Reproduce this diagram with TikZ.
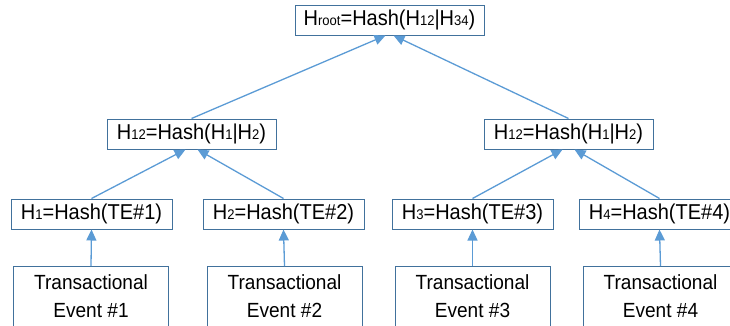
\documentclass[tikz,border=0pt]{standalone}
\usepackage{fontspec}
\setmainfont{Liberation Sans}[FakeStretch=0.93]
\usetikzlibrary{arrows.meta,calc}
\definecolor{boxc}{HTML}{41719C}
\definecolor{linec}{HTML}{5B9BD5}
\newcommand{\sbs}[1]{{\fontsize{14}{14}\selectfont #1}}
\tikzset{
  x=1pt,y=-1pt,
  hbox/.style={draw=boxc,line width=1pt,inner sep=0pt,minimum height=30pt,font=\fontsize{21.5}{25}\selectfont,text=black},
  leaf/.style={draw=boxc,line width=1pt,inner sep=0pt,minimum width=155pt,minimum height=60pt,align=center,font=\fontsize{20.5}{28}\selectfont,text=black},
  arr/.style={draw=linec,line width=1.3pt,-{Triangle[length=11pt,width=10pt]}}
}
\begin{document}
\begin{tikzpicture}
\useasboundingbox (0,0) rectangle (730,325);
\node[hbox,minimum width=189pt] (root) at (389.5,20) {H\sbs{root}=Hash(H\sbs{12}|H\sbs{34})};
\node[hbox,minimum width=169pt] (l12) at (191.5,134) {H\sbs{12}=Hash(H\sbs{1}|H\sbs{2})};
\node[hbox,minimum width=169pt] (r12) at (568.5,134) {H\sbs{12}=Hash(H\sbs{1}|H\sbs{2})};
\node[hbox,minimum width=161pt] (h1) at (91.5,214) {H\sbs{1}=Hash(TE\#1)};
\node[hbox,minimum width=161pt] (h2) at (283.5,214) {H\sbs{2}=Hash(TE\#2)};
\node[hbox,minimum width=161pt] (h3) at (472.5,214) {H\sbs{3}=Hash(TE\#3)};
\node[hbox,minimum width=161pt] (h4) at (659.5,214) {H\sbs{4}=Hash(TE\#4)};
\node[leaf,anchor=north] (t1) at (91,266) {Transactional\\Event \#1};
\node[leaf,anchor=north] (t2) at (284.5,266) {Transactional\\Event \#2};
\node[leaf,anchor=north] (t3) at (472.5,266) {Transactional\\Event \#3};
\node[leaf,anchor=north] (t4) at (660.5,266) {Transactional\\Event \#4};
\draw[arr] (t1.north) -- (h1.south);
\draw[arr] (t2.north) -- (h2.south);
\draw[arr] (t3.north) -- (h3.south);
\draw[arr] (t4.north) -- (h4.south);
\draw[arr] (h1.north) -- ($(l12.south)+(-6,0)$);
\draw[arr] (h2.north) -- ($(l12.south)+(6,0)$);
\draw[arr] (h3.north) -- ($(r12.south)+(-6,0)$);
\draw[arr] (h4.north) -- ($(r12.south)+(6,0)$);
\draw[arr] (l12.north) -- ($(root.south)+(-4,0)$);
\draw[arr] (r12.north) -- ($(root.south)+(4,0)$);
\end{tikzpicture}
\end{document}
